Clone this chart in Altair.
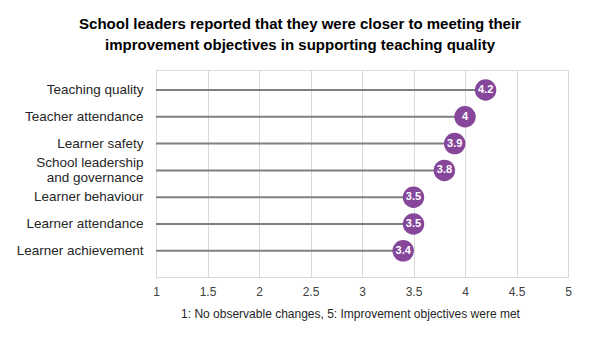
import altair as alt
import pandas as pd

categories = ["Teaching quality", "Teacher attendance", "Learner safety",
              "School leadership|and governance", "Learner behaviour",
              "Learner attendance", "Learner achievement"]
values = [4.2, 4.0, 3.9, 3.8, 3.5, 3.5, 3.4]
value_labels = ["4.2", "4", "3.9", "3.8", "3.5", "3.5", "3.4"]
x_ticks = [1, 1.5, 2, 2.5, 3, 3.5, 4, 4.5, 5]

df = pd.DataFrame({"cat": categories, "val": values, "lab": value_labels, "start": [1] * len(values)})

FONT = "Liberation Sans"
PURPLE = "#86469A"

y_enc = alt.Y("cat:N", sort=categories,
              scale=alt.Scale(paddingInner=0, paddingOuter=0.36, align=0.34),
              axis=alt.Axis(title=None, domain=False, ticks=False, grid=False,
                            labelExpr="split(datum.label, '|')",
                            labelFont=FONT, labelFontSize=13.5, labelColor="#262626",
                            labelPadding=13, labelLineHeight=15,
                            labelOffset={"condition": {"test": "indexof(datum.value, '|') >= 0", "value": -7.5},
                                         "value": 0}))
x_scale = alt.Scale(domain=[1, 5], nice=False, zero=False)
x_axis = alt.Axis(values=x_ticks, title="1: No observable changes, 5: Improvement objectives were met",
                  grid=True, gridColor="#d9d9d9", gridWidth=1,
                  domain=True, domainColor="#d9d9d9", ticks=False,
                  labelFont=FONT, labelFontSize=12, labelColor="#404040", labelPadding=9,
                  labelFlush=False,
                  titleFont=FONT, titleFontSize=12, titleFontWeight="normal", titleColor="#262626",
                  titlePadding=11, titleX=194, labelExpr="datum.value")

base = alt.Chart(df)

lines = base.mark_rule(color="#7f7f7f", strokeWidth=2).encode(
    x=alt.X("start:Q", scale=x_scale, axis=x_axis),
    x2="val:Q",
    y=y_enc,
)
dots = base.mark_circle(size=460, opacity=1, color=PURPLE).encode(
    x=alt.X("val:Q", scale=x_scale),
    y=alt.Y("cat:N", sort=categories),
)
texts = base.mark_text(color="white", fontWeight="bold", font=FONT, fontSize=11).encode(
    x=alt.X("val:Q", scale=x_scale),
    y=alt.Y("cat:N", sort=categories),
    text="lab:N",
)

chart = (lines + dots + texts).properties(
    width=412, height=207,
    title=alt.TitleParams(
        ["School leaders reported that they were closer to meeting their",
         "improvement objectives in supporting teaching quality"],
        font=FONT, fontSize=15, fontWeight="bold", color="#000000",
        anchor="middle", frame="group", lineHeight=21, offset=17, dx=-62,
    ),
    autosize=alt.AutoSizeParams(type="none"),
    padding={"left": 156, "top": 70, "right": 34, "bottom": 61},
).configure_view(stroke=None).configure(background="white")

chart.save("out.html", embed_options={"renderer": "svg", "actions": False})
